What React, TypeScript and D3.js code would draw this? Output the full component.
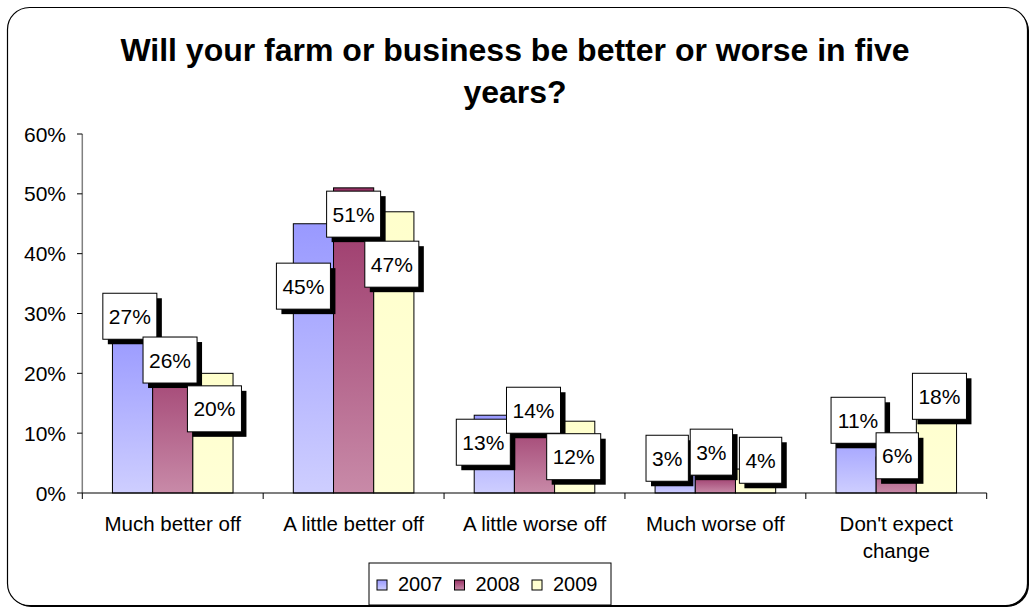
import React from "react";
import * as d3 from "d3";

const categories = ["Much better off", "A little better off", "A little worse off", "Much worse off", "Don't expect change"];
const categoryLines = [["Much better off"], ["A little better off"], ["A little worse off"], ["Much worse off"], ["Don't expect", "change"]];
const seriesNames = ["2007", "2008", "2009"];
const values2007 = [0.27, 0.45, 0.13, 0.03, 0.11];
const values2008 = [0.26, 0.51, 0.14, 0.03, 0.06];
const values2009 = [0.20, 0.47, 0.12, 0.04, 0.18];
const yTicks = [0, 0.1, 0.2, 0.3, 0.4, 0.5, 0.6];
const title = ["Will your farm or business be better or worse in five", "years?"];

// label placement nudges (px, relative to bar centre / bar top), as in the original chart
const labelNudges = [
  [[-2.7, -15.2], [-2.7, 22.6], [1.5, 35.5]],
  [[-10, 62.4], [0, 26.3], [-2, 52.4]],
  [[-11, 27], [-1, 1], [-1, 35.5]],
  [[-8, -16.8], [-4, -22.9], [5, -8.8]],
  [[2, -6.9], [1, -1.3], [3, 11]],
];

const gradients = [
  { id: "g2007", top: "#9999FF", bottom: "#CECEFF" },
  { id: "g2008", top: "#993366", bottom: "#C88AA8" },
  { id: "g2009", top: "#FFFFCC", bottom: "#FFFFD6" },
];

const FONT = "'Liberation Sans', Arial, sans-serif";

export default function App() {
  const W = 1034, H = 612;
  const seriesValues = [values2007, values2008, values2009];
  const x0 = d3.scaleBand<string>().domain(categories).range([82.3, 986.7]).paddingInner(0).paddingOuter(0);
  const u = x0.bandwidth() / 4.5;
  const x1 = d3.scaleBand<string>().domain(seriesNames).range([0.75 * u, 3.75 * u]).padding(0);
  const y = d3.scaleLinear().domain([0, 0.6]).range([493, 134]);
  const fmt = d3.format(".0%");
  const y0 = y(0);
  const LF = 21;

  const textW = (s: string) => {
    let w = 0;
    for (const c of s) w += c === "%" ? 0.889 * LF : 0.556 * LF;
    return w;
  };

  const bars: any[] = [];
  const labels: any[] = [];
  categories.forEach((cat, ci) => {
    seriesNames.forEach((sn, si) => {
      const v = seriesValues[si][ci];
      const bx = (x0(cat) as number) + (x1(sn) as number);
      const bw = x1.bandwidth();
      const by = y(v);
      bars.push(
        <rect key={`b${ci}-${si}`} x={bx} y={by} width={bw} height={y0 - by}
          fill={`url(#${gradients[si].id})`} stroke="#000" strokeWidth={1} />
      );
      const [dx, dy] = labelNudges[ci][si];
      const cx = bx + bw / 2 + dx;
      const cy = by + dy;
      const txt = fmt(v);
      const lw = textW(txt) + 12;
      const lh = 46;
      labels.push(
        <g key={`l${ci}-${si}`}>
          <rect x={cx - lw / 2 + 5} y={cy - lh / 2 + 5} width={lw} height={lh} fill="#000" />
          <rect x={cx - lw / 2} y={cy - lh / 2} width={lw} height={lh} fill="#fff" stroke="#000" strokeWidth={1} />
          <text x={cx} y={cy + 7.5} textAnchor="middle" fontSize={LF} fontFamily={FONT} fill="#000">{txt}</text>
        </g>
      );
    });
  });

  return (
    <svg width={W} height={H} style={{ position: "absolute", left: 0, top: 0, display: "block" }}>
      <defs>
        {gradients.map((g) => (
          <linearGradient key={g.id} id={g.id} x1="0" y1="0" x2="0" y2="1">
            <stop offset="0%" stopColor={g.top} />
            <stop offset="100%" stopColor={g.bottom} />
          </linearGradient>
        ))}
      </defs>
      <rect x={0} y={0} width={W} height={H} fill="#fff" />
      <rect x={9} y={9} width={1020} height={598} rx={22} fill="#000" />
      <rect x={7.5} y={7.5} width={1020} height={598} rx={22} fill="#fff" stroke="#000" strokeWidth={1.2} />

      {title.map((t, i) => (
        <text key={i} x={515} y={61 + i * 42} textAnchor="middle" fontSize={32} fontWeight="bold" fontFamily={FONT} fill="#000">{t}</text>
      ))}

      {/* y axis */}
      <line x1={82.3} x2={82.3} y1={y(0.6)} y2={y0} stroke="#808080" strokeWidth={1.5} />
      {yTicks.map((t) => (
        <g key={t}>
          <line x1={77} x2={82.3} y1={y(t)} y2={y(t)} stroke="#000" strokeWidth={1} />
          <text x={66} y={y(t) + 7.5} textAnchor="end" fontSize={21} fontFamily={FONT} fill="#000">{fmt(t)}</text>
        </g>
      ))}

      {bars}

      {/* x axis */}
      <line x1={82.3} x2={986.7} y1={y0} y2={y0} stroke="#000" strokeWidth={1.2} />
      {categories.map((c) => (
        <line key={c} x1={x0(c) as number} x2={x0(c) as number} y1={y0} y2={y0 + 6} stroke="#000" strokeWidth={1} />
      ))}
      <line x1={986.7} x2={986.7} y1={y0} y2={y0 + 6} stroke="#000" strokeWidth={1} />
      {categories.map((c, ci) => (
        <text key={c} textAnchor="middle" fontSize={20.5} fontFamily={FONT} fill="#000">
          {categoryLines[ci].map((ln, li) => (
            <tspan key={li} x={(x0(c) as number) + x0.bandwidth() / 2} y={531 + li * 27}>{ln}</tspan>
          ))}
        </text>
      ))}

      {labels}

      {/* legend */}
      <rect x={369} y={563} width={242} height={42} fill="#fff" stroke="#000" strokeWidth={1} />
      {seriesNames.map((s, i) => {
        const lx = 377 + i * 77.5;
        return (
          <g key={s}>
            <rect x={lx} y={580} width={10} height={10} fill={`url(#${gradients[i].id})`} stroke="#000" strokeWidth={1} />
            <text x={lx + 21} y={591} fontSize={20} fontFamily={FONT} fill="#000">{s}</text>
          </g>
        );
      })}
    </svg>
  );
}
